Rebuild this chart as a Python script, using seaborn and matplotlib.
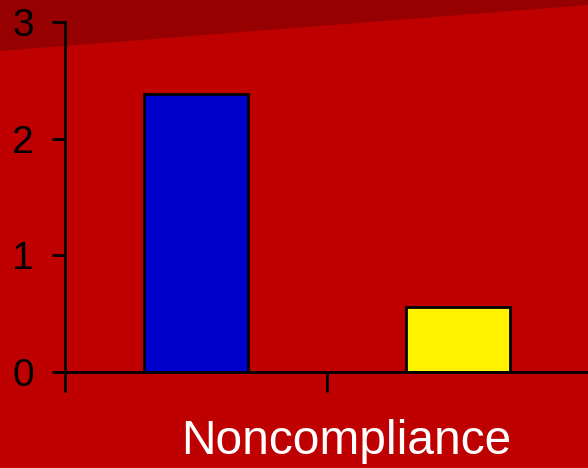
import matplotlib
matplotlib.use("Agg")
import matplotlib.pyplot as plt
from matplotlib.patches import Polygon
import seaborn as sns
import pandas as pd

# Data
series = ["Series 1", "Series 2"]
values = [2.38, 0.56]
bar_colors = ["#0000CC", "#FFF200"]
y_ticks = [0, 1, 2, 3]
category_label = "Noncompliance"

sns.set_theme(style="white")
plt.rcParams["font.family"] = ["Liberation Sans", "DejaVu Sans"]

df = pd.DataFrame({"series": series, "value": values})

fig = plt.figure(figsize=(5.88, 4.68), dpi=100, facecolor="#BE0000")

# darker slanted band across the top, kept behind the axes
band = Polygon([(0, 1), (1, 1), (1, 1 - 5 / 468), (0, 1 - 51 / 468)],
               closed=True, transform=fig.transFigure, facecolor="#960000",
               edgecolor="none", zorder=-5)
fig.patches.append(band)

ax = fig.add_axes([65 / 588, 1 - 372 / 468, 524 / 588, 350 / 468])
ax.set_facecolor("none")
ax.set_zorder(2)

sns.barplot(data=df, x="series", y="value", hue="series",
            palette=bar_colors, width=0.395, dodge=False, legend=False,
            edgecolor="black", linewidth=2, saturation=1, ax=ax)

ax.set_xlim(-0.5, 1.5)
ax.set_ylim(0, 3)
ax.set_xticks([-0.5, 0.5])
ax.set_xticklabels([])
ax.set_yticks(y_ticks)
ax.set_yticklabels([str(t) for t in y_ticks])
ax.set_xlabel("")
ax.set_ylabel("")

for side in ["top", "right"]:
    ax.spines[side].set_visible(False)
for side in ["left", "bottom"]:
    ax.spines[side].set_color("black")
    ax.spines[side].set_linewidth(2)
    ax.spines[side].set_clip_on(False)

ax.tick_params(axis="y", direction="out", length=9.5, width=2, color="black",
               labelsize=28, labelcolor="black", pad=13, left=True)
ax.tick_params(axis="x", direction="out", length=14.5, width=2, color="black",
               bottom=True)

fig.text(346 / 588, 1 - 441 / 468, category_label, color="white",
         fontsize=34.5, ha="center", va="center")

fig.savefig("out.png", dpi=100, facecolor=fig.get_facecolor())
